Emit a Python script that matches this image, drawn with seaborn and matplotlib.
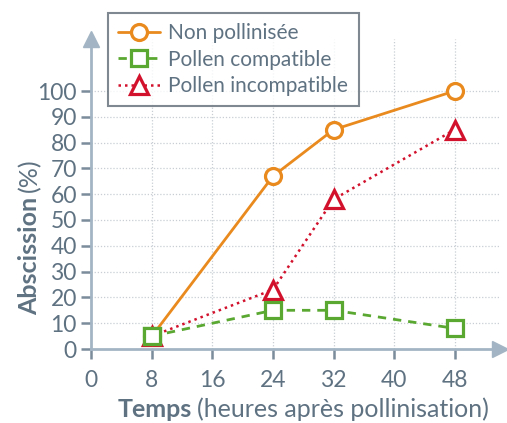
import matplotlib
matplotlib.use("Agg")
import matplotlib.pyplot as plt
import seaborn as sns
import pandas as pd
from matplotlib.lines import Line2D

# data
temps = [8, 24, 32, 48]
non_pollinisee = [5, 67, 85, 100]
pollen_compatible = [5, 15, 15, 8]
pollen_incompatible = [5, 23, 58, 85]
x_ticks = [0, 8, 16, 24, 32, 40, 48]
y_ticks = [0, 10, 20, 30, 40, 50, 60, 70, 80, 90, 100]

sns.set_theme(style="white")
plt.rcParams['font.family'] = ['Lato', 'DejaVu Sans']

TXT = '#5f7282'
AX = '#a3b5c4'
ORANGE = '#e98a1e'
GREEN = '#5aa832'
RED = '#d2112c'

fig = plt.figure(figsize=(5.07, 4.23), dpi=100)
ax = fig.add_axes([91.4 / 507, 74 / 423, 408.6 / 507, 309.6 / 423])
ax.set_xlim(0, 54)
ax.set_ylim(0, 120)

# grid
for x in x_ticks[1:]:
    ax.axvline(x, color='#c8ced4', lw=0.9, ls=(0, (1, 1.5)), zorder=0)
for y in y_ticks[1:]:
    ax.axhline(y, color='#c8ced4', lw=0.9, ls=(0, (1, 1.5)), zorder=0)

df = pd.DataFrame({'temps': temps, 'non': non_pollinisee,
                   'comp': pollen_compatible, 'incomp': pollen_incompatible})

sns.lineplot(data=df, x='temps', y='incomp', ax=ax, color=RED, lw=1.8,
             linestyle=(0, (1, 1.6)), marker='^', markersize=13,
             markerfacecolor='white', markeredgecolor=RED, markeredgewidth=2.3, zorder=3)
sns.lineplot(data=df, x='temps', y='comp', ax=ax, color=GREEN, lw=2,
             linestyle=(0, (3, 2.5)), marker='s', markersize=11.5,
             markerfacecolor='white', markeredgecolor=GREEN, markeredgewidth=2.3, zorder=4)
sns.lineplot(data=df, x='temps', y='non', ax=ax, color=ORANGE, lw=2,
             linestyle='-', marker='o', markersize=11.5,
             markerfacecolor='white', markeredgecolor=ORANGE, markeredgewidth=2.3, zorder=5)
# green square sits on top at t=8 like in the reference
ax.plot(temps[:1], pollen_compatible[:1], ls='none', marker='s', markersize=11.5,
        markerfacecolor='white', markeredgecolor=GREEN, markeredgewidth=2.3, zorder=6)

# axes with arrows
for s in ['top', 'right']:
    ax.spines[s].set_visible(False)
for s in ['left', 'bottom']:
    ax.spines[s].set_color(AX)
    ax.spines[s].set_linewidth(2)
ax.plot(1, 0, '>', color=AX, markersize=11, transform=ax.transAxes, clip_on=False)
ax.plot(0, 1, '^', color=AX, markersize=11, transform=ax.transAxes, clip_on=False)

ax.set_xticks(x_ticks)
ax.set_yticks(y_ticks)
ax.tick_params(axis='both', direction='out', color='#7b8c9a', width=1.8, length=7,
               labelcolor=TXT, labelsize=16.5, bottom=True, left=True)
ax.tick_params(axis='x', pad=8)
ax.set_xlabel('')
ax.set_ylabel('')

# axis titles: bold word + normal part
fig.canvas.draw()
r = fig.canvas.get_renderer()
t1 = fig.text(118 / 507, 1 - 409 / 423, 'Temps', fontsize=18, fontweight='bold',
              color=TXT, va='center', ha='left')
bb = t1.get_window_extent(r)
fig.text((bb.x1 + 5) / 507, 1 - 409 / 423, '(heures après pollinisation)', fontsize=18,
         color=TXT, va='center', ha='left')
t2 = fig.text(30 / 507, 1 - 315 / 423, 'Abscission', fontsize=18, fontweight='bold',
              color=TXT, va='center', ha='left', rotation=90, rotation_mode='anchor')
bb2 = t2.get_window_extent(r)
fig.text(30 / 507, (bb2.y1 + 5) / 423, '(%)', fontsize=18, color=TXT,
         va='center', ha='left', rotation=90, rotation_mode='anchor')

handles = [
    Line2D([], [], color=ORANGE, lw=2, marker='o', markersize=11.5,
           markerfacecolor='white', markeredgewidth=2.3),
    Line2D([], [], color=GREEN, lw=2, ls=(0, (3, 2.5)), marker='s', markersize=11.5,
           markerfacecolor='white', markeredgewidth=2.3),
    Line2D([], [], color=RED, lw=1.8, ls=(0, (1, 1.6)), marker='^', markersize=13,
           markerfacecolor='white', markeredgewidth=2.3),
]
labels = ['Non pollinisée', 'Pollen compatible', 'Pollen incompatible']
leg = fig.legend(handles, labels, loc='upper left', bbox_to_anchor=(108 / 507, 1 - 13 / 423),
                 frameon=True, fancybox=False, fontsize=15, labelcolor=TXT,
                 handlelength=2.0, handletextpad=0.4, borderpad=0.5, labelspacing=0.3,
                 borderaxespad=0)
leg.get_frame().set_edgecolor('#5f6b75')
leg.get_frame().set_linewidth(1.5)

fig.savefig('out.png', dpi=100)
